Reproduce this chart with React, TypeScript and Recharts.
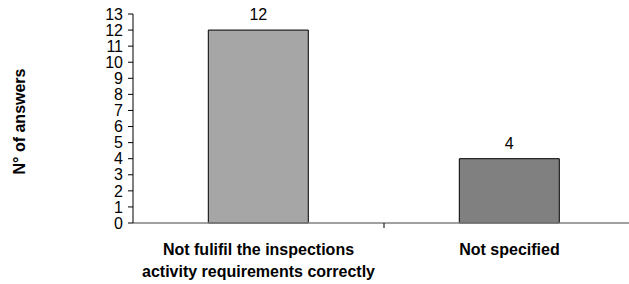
import { BarChart, Bar, XAxis, YAxis, Cell, LabelList, Label } from 'recharts';

const categories = ['Not fulifil the inspections|activity requirements correctly', 'Not specified'];
const answers = [12, 4];
const barColors = ['#a6a6a6', '#808080'];
const yTicks = [0, 1, 2, 3, 4, 5, 6, 7, 8, 9, 10, 11, 12, 13];

const data = categories.map((name, i) => ({ name, value: answers[i] }));

const font = 'Arial, "Liberation Sans", sans-serif';

function CategoryTick(props: any) {
  const { x, y, payload, index } = props;
  const lines = String(payload.value).split('|');
  const half = payload.offset ?? 125.5;
  return (
    <g>
      {index === 0 && (
        <line x1={x + half} x2={x + half} y1={y - 8} y2={y - 3} stroke="#000" />
      )}
      <text x={x} y={y + 24} textAnchor="middle" fontFamily={font} fontSize={16} fontWeight="bold" fill="#000">
        {lines.map((l, i) => (
          <tspan key={i} x={x} dy={i === 0 ? 0 : 22}>{l}</tspan>
        ))}
      </text>
    </g>
  );
}

function YTitle(props: any) {
  const { viewBox } = props;
  const cy = viewBox.y + viewBox.height / 2 + 3;
  return (
    <text x={25} y={cy} transform={`rotate(-90, 25, ${cy})`} textAnchor="middle"
      fontFamily={font} fontSize={16} fontWeight="bold" fill="#000">
      N° of answers
    </text>
  );
}

export default function App() {
  return (
    <div style={{ position: 'fixed', left: 0, top: 0, width: 629, height: 284, overflow: 'hidden', background: '#fff' }}>
      <BarChart width={640} height={284} data={data}
        margin={{ top: 14, right: 5, bottom: 0, left: 33 }} barCategoryGap="30%">
        <XAxis dataKey="name" height={61} interval={0} tickLine={false}
          axisLine={{ stroke: '#808080', strokeWidth: 1.5 }} tick={<CategoryTick />} />
        <YAxis domain={[0, 13]} ticks={yTicks} interval={0} width={100} tickSize={5} tickMargin={5}
          axisLine={{ stroke: '#000' }} tickLine={{ stroke: '#000' }}
          tick={{ fill: '#000', fontSize: 16, fontFamily: font }}>
          <Label content={<YTitle />} />
        </YAxis>
        <Bar dataKey="value" stroke="#000" strokeWidth={1} isAnimationActive={false}>
          {data.map((d, i) => <Cell key={d.name} fill={barColors[i]} />)}
          <LabelList dataKey="value" position="top" offset={10}
            style={{ fill: '#000', fontSize: 16, fontFamily: font }} />
        </Bar>
      </BarChart>
    </div>
  );
}
